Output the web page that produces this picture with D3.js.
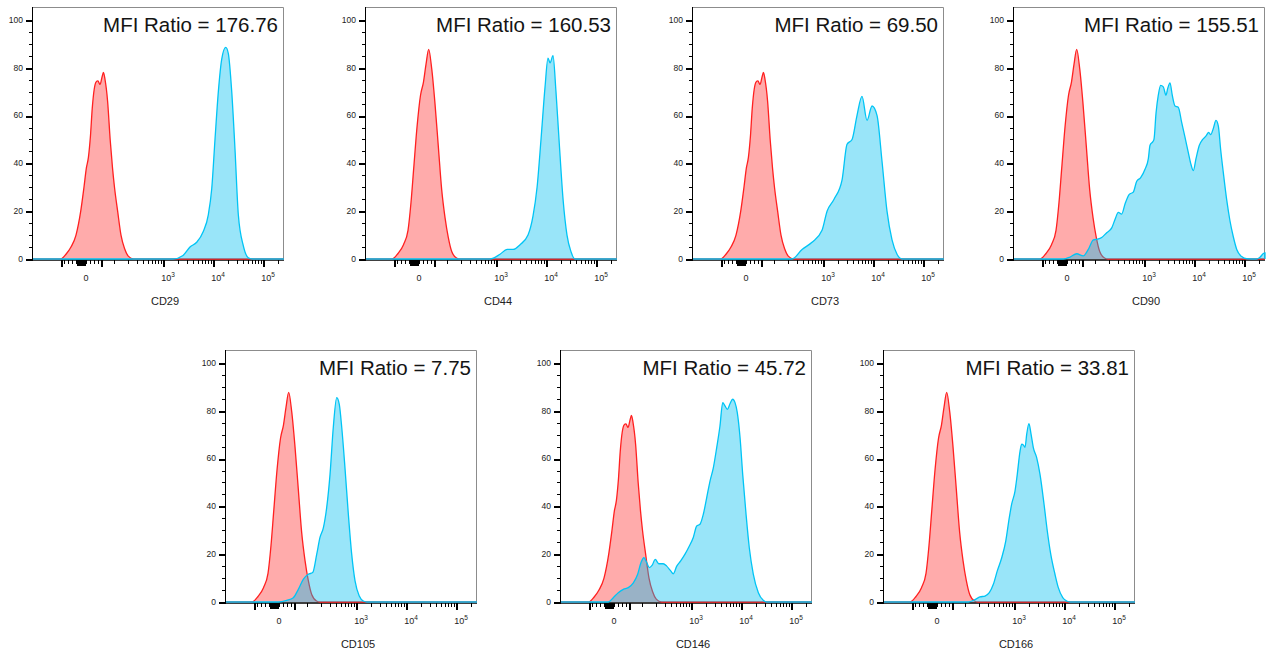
<!DOCTYPE html>
<html><head><meta charset="utf-8">
<script src="https://cdn.jsdelivr.net/npm/d3@7"></script>
<style>
body{margin:0;background:#fff}
svg{display:block}
text{font-family:"Liberation Sans",Arial,Helvetica,sans-serif}
</style>
</head><body>
<svg id="chart" width="1269" height="657"></svg>
<script>
// ---------------- DATA ----------------
const markers = ["CD29", "CD44", "CD73", "CD90", "CD105", "CD146", "CD166"];
const mfiRatios = ["176.76", "160.53", "69.50", "155.51", "7.75", "45.72", "33.81"];
const yTickValues = [0, 20, 40, 60, 80, 100];
const yDomain = [0, 105.4];              // % of mode
const channelDomain = [0, 256];          // display channels of the biexponential axis
const xValueRange = [-217, 262144];      // fluorescence values at the axis ends
const logicleC = 46;                     // linear-region width of the biex transform
const xLabelTicks = [
  {v: 0, base: "0", exp: ""},
  {v: 1e3, base: "10", exp: "3"},
  {v: 1e4, base: "10", exp: "4"},
  {v: 1e5, base: "10", exp: "5"}
];
const xMajorTicks = [-50, 50, 1e3, 1e4, 1e5];
const xZeroTicks = [-9,-8,-7,-6,-5,-4,-3,-2,-1,0,1,2,3,4,5,6,7,8,9];
const xMinorTicks = [-40,-30,-20,-10,10,20,30,40,
  100,200,300,400,500,600,700,800,900,
  2000,3000,4000,5000,6000,7000,8000,9000,
  20000,30000,40000,50000,60000,70000,80000,90000,200000];

// isotype controls (red), [channel, % of mode]
const isotypeA = [[29,0],[34.5,2],[39.6,5],[44.7,10],[49.5,20],[52.8,30],[55.2,38],[57.3,42.5],[59.3,51],[61.2,63],[63.2,71],[65,74],[67,74.5],[69.1,73],[71.1,76],[72.6,78],[74.2,75],[76.8,66],[79.4,50],[81.8,38],[83.8,30],[87,20],[90.4,10],[94.1,4.3],[97.8,1.2],[103.1,0]];
const isotypeB = [[27.4,0],[33.5,2.3],[39.1,6],[43.7,12],[46.7,23.5],[49.5,38],[52.8,55],[56.4,68.5],[59.4,74],[62,81.5],[64.7,87.7],[67.8,79.5],[71.1,65],[74.5,47],[77.9,29],[81.3,17.3],[84.6,9],[88.1,3.1],[93,0.4],[96.5,0]];

// stained samples (blue), [channel, % of mode]
const stainCD29 = [[143.2,0],[153.4,1.5],[160.5,5],[167.3,7],[174,11.5],[179.1,18.5],[182.6,29.5],[185.9,50],[189.3,70],[192.7,83.5],[196.8,88.5],[199.4,86],[202.9,70],[206.2,46],[209.6,18.5],[214.7,5.5],[219.7,0.5],[223.5,0]];
const stainCD44 = [[127,0],[137.2,2],[144.3,4],[150.4,4],[157.5,6],[165.6,10],[170.7,18],[174.8,30],[178.8,50],[182.9,72],[185.9,84],[188,82],[191,85],[194,70],[197.1,50],[201.2,25],[205.2,10],[209.3,3],[213.3,0]];
const stainCD73 = [[101.6,0],[111.8,4],[121.9,7],[132.1,12],[137.2,20],[144.3,25],[152.4,33],[157.5,48],[162.6,50],[167.6,60],[172.7,68],[177.8,58],[182.9,64],[188,60],[193,41],[198.1,20],[203.2,8],[208.3,2],[213.3,0]];
const stainCD90 = [[51.1,0],[57.9,0.8],[64.7,2.2],[71.4,1.3],[76.5,4],[81.6,8],[86,8.3],[90.1,9],[95.2,11],[100.3,13],[103.6,16.5],[107,19.5],[110.4,18.8],[113.8,23],[118.1,27],[122.2,28],[125.7,32.5],[129.7,34],[134.1,37.5],[137.5,42],[139.2,47.6],[141.9,49],[143.2,50],[145.3,61],[147.6,68.5],[150,72.6],[152.7,72],[155.4,68.5],[157.2,71.4],[159.5,73.7],[161.8,68.5],[164.6,64],[167.9,63.5],[171.4,57],[174.7,51],[178.1,44.5],[180.5,40],[183.2,37],[185.9,42],[189.3,47.6],[192.7,50],[196.1,51.5],[198.8,53],[200.8,52],[203.5,54.6],[206.2,58],[208.6,55.6],[211,45.6],[213.7,36],[217.1,24.7],[220.4,16],[223.8,9.3],[227.3,4],[232.3,1],[237.4,0.1],[247.6,0],[250.9,0.7],[254.3,2.3],[256,2.6]];
const stainCD105 = [[54.2,0],[62.7,0.7],[69.4,1.8],[74.5,5.3],[79.5,9.5],[84.6,11.6],[89.1,12.3],[93.2,20],[96.5,27],[99.9,31],[103.3,39.5],[106.7,53.4],[110,73],[113.5,85.5],[116.1,82.7],[118.6,73],[121.9,56],[125.3,36.7],[128.7,20],[132.1,8.8],[136.4,2.5],[140.5,0.4],[144,0]];
const stainCD146 = [[49.1,0],[54.1,1.8],[59.2,3.9],[64.3,5.3],[69.4,6],[74.5,8],[78.9,11.6],[82.3,16.5],[85.3,18.5],[88.1,16.5],[90.7,14.4],[93.5,15.3],[96.8,17.8],[100.3,16],[104.9,16],[108.4,15],[112.5,13],[115.1,11.8],[118.6,15],[122.6,17.2],[127,20],[131.4,23.4],[135.4,27],[138.9,31.8],[142.2,32.5],[145.6,36.7],[149,43.6],[152.4,50.6],[155.7,56],[159.2,64.6],[162.5,73.6],[165.3,83.4],[167.6,82],[170,80.6],[172.7,82.9],[175.4,84.8],[177.8,83.4],[180.1,79.2],[182.9,68.8],[185.6,53.4],[189,36.7],[192.3,22.7],[196.4,11.6],[201.5,3.9],[206.5,0.7],[210,0]];
const stainCD166 = [[86.7,0],[93.5,1],[98.5,2.1],[103.6,2.5],[108,3.9],[112.1,7.4],[116.1,13],[120.6,18.5],[124.7,25.5],[128.3,35.3],[130.7,40.9],[134.1,46.4],[136.4,53.4],[139.2,63],[140.9,66],[142.5,65.7],[144.3,64.7],[146,70.2],[148.3,74.6],[150.4,70.2],[152.7,64.6],[156.1,60.4],[159.5,53.4],[163.6,40.9],[166.9,29.7],[170.4,20],[174.7,11.6],[178.1,6],[182.6,1.8],[186.6,0.4],[190,0]];

const controls = [isotypeA, isotypeB, isotypeA, isotypeB, isotypeB, isotypeA, isotypeB];
const stains = [stainCD29, stainCD44, stainCD73, stainCD90, stainCD105, stainCD146, stainCD166];

// ---------------- LAYOUT / STYLE ----------------
const layout = [
  {left: 32, top: 7}, {left: 365, top: 7}, {left: 692, top: 7}, {left: 1013, top: 7},
  {left: 225, top: 350}, {left: 560, top: 350}, {left: 883, top: 350}
];
const W = 252, H = 252;
const redStroke = "rgb(255,32,32)", redFill = "rgb(255,0,0)", redFillOpacity = 0.33;
const blueStroke = "rgb(0,196,245)", blueFill = "rgb(0,190,240)", blueFillOpacity = 0.4;

// ---------------- DRAW ----------------
const svg = d3.select("#chart");
const x = d3.scaleLinear().domain(channelDomain).range([0, W]);
const y = d3.scaleLinear().domain(yDomain).range([H, 0]);
const tr = v => Math.asinh(v / logicleC);
const xv = d3.scaleLinear().domain([tr(xValueRange[0]), tr(xValueRange[1])]).range([0, W]);
const xt = v => Math.round(xv(tr(v))) + 0.5;
const yt = v => Math.round(y(v)) + 0.5;

const area = d3.area().x(d => x(d[0])).y0(y(0)).y1(d => y(d[1])).curve(d3.curveMonotoneX);
const line = d3.line().x(d => x(d[0])).y(d => y(d[1])).curve(d3.curveMonotoneX);
const padded = d => [[channelDomain[0], 0], ...d, [channelDomain[1], 0]];

markers.forEach((m, i) => {
  const g = svg.append("g").attr("transform", `translate(${layout[i].left},${layout[i].top})`);

  // frame (top/right, grey)
  g.append("path").attr("d", `M0,0.5H${W - 0.5}V${H}`).attr("fill", "none")
    .attr("stroke", "#8c8c8c").attr("stroke-width", 1);

  // x-axis line (under curves)
  g.append("line").attr("x1", 0).attr("x2", W).attr("y1", H + 1).attr("y2", H + 1)
    .attr("stroke", "#000").attr("stroke-width", 1.4);

  // control (red)
  const c = padded(controls[i]);
  g.append("path").datum(c).attr("d", area).attr("fill", redFill).attr("fill-opacity", redFillOpacity);
  g.append("path").datum(c).attr("d", line).attr("fill", "none").attr("stroke", redStroke).attr("stroke-width", 1.3);

  // stained (blue), on top
  const s = padded(stains[i]);
  g.append("path").datum(s).attr("d", area).attr("fill", blueFill).attr("fill-opacity", blueFillOpacity);
  g.append("path").datum(s).attr("d", line).attr("fill", "none").attr("stroke", blueStroke).attr("stroke-width", 1.3);

  // y axis
  const tg = g.append("g").attr("shape-rendering", "crispEdges");
  tg.append("line").attr("x1", 0.5).attr("x2", 0.5).attr("y1", 0).attr("y2", H + 2)
    .attr("stroke", "#000").attr("stroke-width", 1);
  const yMinor = d3.range(0, 101, 5).filter(v => v % 20 !== 0);
  tg.selectAll("line.ymin").data(yMinor).join("line").attr("class", "ymin")
    .attr("x1", -3).attr("x2", 0).attr("y1", d => yt(d)).attr("y2", d => yt(d))
    .attr("stroke", "#000").attr("stroke-width", 1);
  tg.selectAll("line.ymaj").data(yTickValues).join("line").attr("class", "ymaj")
    .attr("x1", -6).attr("x2", 0).attr("y1", d => yt(d)).attr("y2", d => yt(d))
    .attr("stroke", "#000").attr("stroke-width", 2);
  g.selectAll("text.ylab").data(yTickValues).join("text").attr("class", "ylab")
    .attr("x", -9).attr("y", d => y(d)).attr("dy", "0.34em")
    .attr("text-anchor", "end").attr("font-size", 8.5).attr("fill", "#222")
    .text(d => d);

  // x ticks (biexponential)
  const ax = H + 1;
  tg.selectAll("line.xmin").data(xMinorTicks).join("line").attr("class", "xmin")
    .attr("x1", d => xt(d)).attr("x2", d => xt(d)).attr("y1", ax).attr("y2", ax + 4)
    .attr("stroke", "#000").attr("stroke-width", 1);
  tg.selectAll("line.xzero").data(xZeroTicks).join("line").attr("class", "xzero")
    .attr("x1", d => xt(d)).attr("x2", d => xt(d)).attr("y1", ax).attr("y2", ax + 6)
    .attr("stroke", "#000").attr("stroke-width", 1);
  tg.selectAll("line.xmaj").data(xMajorTicks).join("line").attr("class", "xmaj")
    .attr("x1", d => xt(d)).attr("x2", d => xt(d)).attr("y1", ax).attr("y2", ax + 7)
    .attr("stroke", "#000").attr("stroke-width", 2);
  const lab = g.selectAll("text.xlab").data(xLabelTicks).join("text").attr("class", "xlab")
    .attr("x", d => xv(tr(d.v)) + 5).attr("y", H + 22)
    .attr("text-anchor", "middle").attr("font-size", 9).attr("fill", "#222");
  lab.append("tspan").text(d => d.base);
  lab.filter(d => d.exp).append("tspan").attr("dy", -4.5).attr("font-size", 6.5).text(d => d.exp);

  // axis title
  g.append("text").attr("x", 133).attr("y", H + 46).attr("text-anchor", "middle")
    .attr("font-size", 11).attr("fill", "#222").text(m);

  // MFI ratio
  g.append("text").attr("x", W - 6).attr("y", 25).attr("text-anchor", "end")
    .attr("font-size", 20.5).attr("fill", "#141414").text(`MFI Ratio = ${mfiRatios[i]}`);
});
</script>
</body></html>
